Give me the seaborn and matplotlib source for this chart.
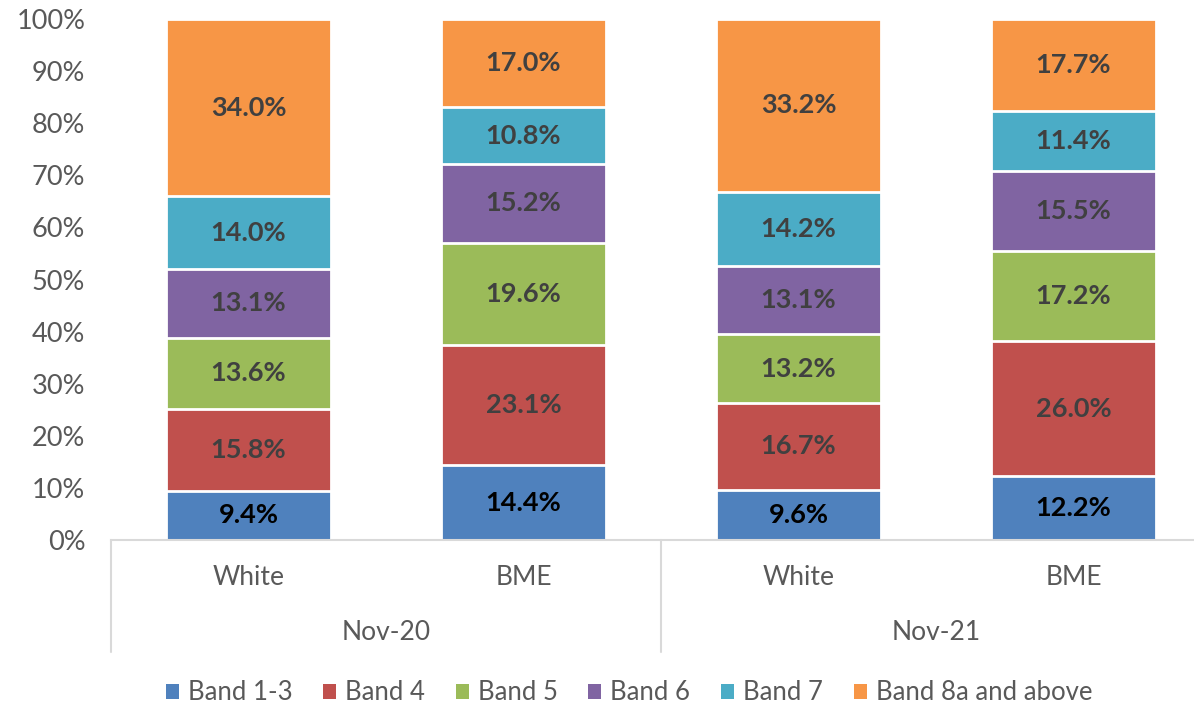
import matplotlib
matplotlib.use("Agg")
import matplotlib.pyplot as plt
import seaborn as sns
import pandas as pd
import numpy as np
from matplotlib.patches import Patch

sns.set_theme(style="white")
plt.rcParams['font.family'] = ['Lato', 'DejaVu Sans']

periods = ["Nov-20", "Nov-20", "Nov-21", "Nov-21"]
groups = ["White", "BME", "White", "BME"]
bands = ["Band 1-3", "Band 4", "Band 5", "Band 6", "Band 7", "Band 8a and above"]
band_1_3 = [9.4, 14.4, 9.6, 12.2]
band_4 = [15.8, 23.1, 16.7, 26.0]
band_5 = [13.6, 19.6, 13.2, 17.2]
band_6 = [13.1, 15.2, 13.1, 15.5]
band_7 = [14.0, 10.8, 14.2, 11.4]
band_8a = [34.0, 17.0, 33.2, 17.7]
colors = ["#4F81BD", "#C0504D", "#9BBB59", "#8064A2", "#4BACC6", "#F79646"]
label_colors = ["#000000", "#404040", "#404040", "#404040", "#404040", "#404040"]

series = [band_1_3, band_4, band_5, band_6, band_7, band_8a]
cats = [f"{p} {g}" for p, g in zip(periods, groups)]
vals = np.array(series)
totals = vals.sum(axis=0)
shares = vals / totals * 100  # 100% stacked
cum = np.cumsum(shares, axis=0)

fig = plt.figure(figsize=(11.94, 7.06), dpi=100)
ax = fig.add_axes([111/1194, (706-540)/706, 1100/1194, 521/706])

for i in reversed(range(len(bands))):
    df = pd.DataFrame({"cat": cats, "top": cum[i]})
    sns.barplot(data=df, x="cat", y="top", order=cats, color=colors[i],
                width=0.6, saturation=1, edgecolor="white", linewidth=2,
                ax=ax, zorder=2)

for i in range(len(bands)):
    for j in range(len(cats)):
        mid = cum[i, j] - shares[i, j] / 2
        ax.text(j, mid, f"{vals[i, j]:.1f}%", ha="center", va="center",
                fontsize=19.5, fontweight="bold", color=label_colors[i], zorder=3)

ax.set_xlim(-0.5, 3.5)
ax.set_ylim(0, 100)
ax.set_yticks(np.arange(0, 101, 10))
ax.set_yticklabels([f"{v}%" for v in range(0, 101, 10)])
ax.tick_params(axis="y", labelsize=19.5, labelcolor="#595959", length=0, pad=18.5)
ax.set_xticks([])
ax.set_xlabel("")
ax.set_ylabel("")
for s in ["top", "right", "left"]:
    ax.spines[s].set_visible(False)
ax.spines["bottom"].set_color("#D9D9D9")
ax.spines["bottom"].set_linewidth(1.5)

# hierarchical category axis
for j, g in enumerate(groups):
    ax.text(j, -7.2, g, ha="center", va="center", fontsize=19, color="#595959",
            clip_on=False)
for k, p in enumerate(["Nov-20", "Nov-21"]):
    ax.text(2 * k + 0.5, -17.8, p, ha="center", va="center", fontsize=19,
            color="#595959", clip_on=False)
for xb in [-0.5, 1.5, 3.5]:
    ax.plot([xb, xb], [0, -21.5], color="#D9D9D9", lw=1.5, clip_on=False)

handles = [Patch(facecolor=c, edgecolor="none") for c in colors]
fig.legend(handles, bands, loc="center", bbox_to_anchor=(629/1194, 1 - 693/706),
           ncol=6, frameon=False, fontsize=18.5, handlelength=0.5, handleheight=0.5,
           handletextpad=0.35, columnspacing=1.2, labelcolor="#595959")

fig.savefig("out.png", dpi=100)
